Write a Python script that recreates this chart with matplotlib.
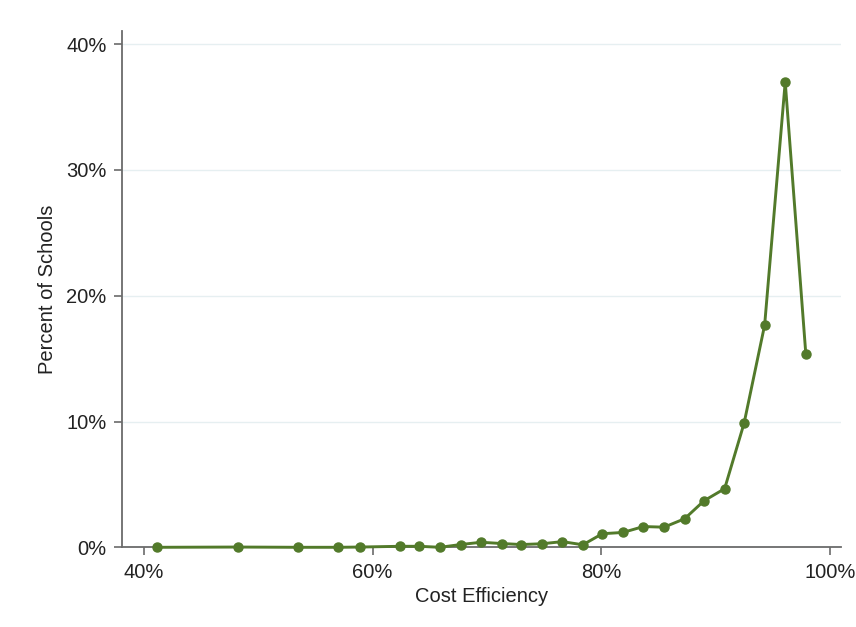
import matplotlib
matplotlib.use("Agg")
import matplotlib.pyplot as plt
from matplotlib.ticker import FuncFormatter

plt.rcParams['font.family'] = ['Liberation Sans', 'DejaVu Sans']

cost_efficiency = [41.1, 48.2, 53.5, 57.0, 58.9, 62.4, 64.1, 65.9, 67.7, 69.5,
                   71.3, 73.0, 74.8, 76.6, 78.4, 80.1, 81.9, 83.7, 85.5, 87.3,
                   89.0, 90.8, 92.5, 94.3, 96.1, 97.9]
percent_schools = [0.0, 0.02, 0.0, 0.0, 0.02, 0.08, 0.08, 0.0, 0.22, 0.4,
                   0.3, 0.22, 0.28, 0.45, 0.2, 1.08, 1.18, 1.65, 1.6, 2.27,
                   3.7, 4.66, 9.86, 17.67, 37.0, 15.4]
x_ticks = [40, 60, 80, 100]
y_ticks = [0, 10, 20, 30, 40]

green = '#527a2a'
text_c = '#222222'
spine_c = '#6b6b6b'

fig = plt.figure(figsize=(8.56, 6.27), dpi=100)
ax = fig.add_axes([122/856, 1 - 547.3/627, (841-122)/856, (547.3-31)/627])

ax.plot(cost_efficiency, percent_schools, color=green, lw=2.1, marker='o',
        markersize=6.5, markerfacecolor=green, markeredgecolor=green, clip_on=False, zorder=3)

ax.set_xlim(38.08, 100.98)
ax.set_ylim(0, 41.05)
ax.set_xticks(x_ticks)
ax.set_yticks(y_ticks)
fmt = FuncFormatter(lambda v, p: f"{v:.0f}%")
ax.xaxis.set_major_formatter(fmt)
ax.yaxis.set_major_formatter(fmt)

ax.grid(axis='y', color='#e6eff1', lw=1.0, zorder=0)
ax.set_axisbelow(True)
for s in ['top', 'right']:
    ax.spines[s].set_visible(False)
for s in ['left', 'bottom']:
    ax.spines[s].set_color(spine_c)
    ax.spines[s].set_linewidth(1.3)

ax.tick_params(axis='both', colors=spine_c, length=6, width=1.2, labelsize=14.5,
               labelcolor=text_c, pad=5)
ax.set_xlabel('Cost Efficiency', fontsize=14.5, color=text_c, labelpad=4)
ax.set_ylabel('Percent of Schools', fontsize=14.5, color=text_c, labelpad=7)

fig.savefig('out.png', dpi=100, facecolor='white')
